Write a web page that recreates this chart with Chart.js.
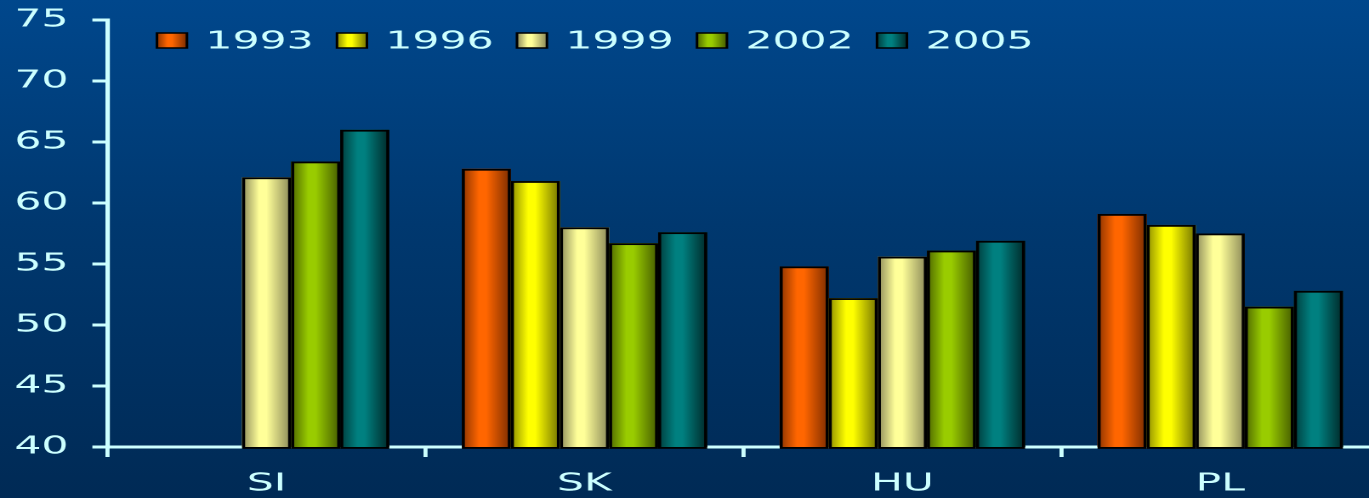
<!DOCTYPE html>
<html>
<head>
<meta charset="utf-8">
<script src="https://cdn.jsdelivr.net/npm/chart.js@4.4.1/dist/chart.umd.min.js"></script>
<style>
html, body { margin: 0; padding: 0; overflow: hidden; background: #002a55; }
#wrap { width: 1369px; height: 498px; overflow: hidden; position: relative;
        background: linear-gradient(to bottom, #00478c 0%, #00386f 45%, #002a55 100%); }
#inner { width: 811px; height: 498px; transform: scaleX(1.7006); transform-origin: 0 0; }
</style>
</head>
<body>
<div id="wrap"><div id="inner"><canvas id="myChart" width="811" height="498"></canvas></div></div>
<script>
const categories = ['SI', 'SK', 'HU', 'PL'];
const years = ['1993', '1996', '1999', '2002', '2005'];
const v1993 = [null, 62.8, 54.8, 59.1];
const v1996 = [null, 61.8, 52.2, 58.2];
const v1999 = [62.1, 58.0, 55.6, 57.5];
const v2002 = [63.4, 56.7, 56.1, 51.5];
const v2005 = [66.0, 57.6, 56.9, 52.8];
const yTicks = [40, 45, 50, 55, 60, 65, 70, 75];

// [left edge, highlight, right edge]
const barColors = [
    ['#8a3300', '#ff6600', '#7a2c00'],
    ['#8c8c00', '#ffff00', '#727200'],
    ['#8c8a5a', '#ffff99', '#8a8858'],
    ['#4d6600', '#99cc00', '#445a00'],
    ['#003c3c', '#008080', '#002828']
];
const textColor = '#ccffff';
const fontFamily = '"DejaVu Sans", Verdana, sans-serif';

const seriesValues = [v1993, v1996, v1999, v2002, v2005];

function shade(ctx, left, width, cols) {
    const g = ctx.createLinearGradient(left, 0, left + width, 0);
    g.addColorStop(0, cols[0]);
    g.addColorStop(0.35, cols[1]);
    g.addColorStop(0.5, cols[1]);
    g.addColorStop(1, cols[2]);
    return g;
}

// paints the shaded bars over the flat ones, using the positions chart.js computed
const shadedBars = {
    id: 'shadedBars',
    afterDatasetsDraw(chart) {
        const ctx = chart.ctx;
        const bottom = chart.chartArea.bottom;
        ctx.save();
        chart.data.datasets.forEach((ds, di) => {
            const meta = chart.getDatasetMeta(di);
            meta.data.forEach((el, i) => {
                if (ds.data[i] === null) return;
                const p = el.getProps(['x', 'y', 'base', 'width'], true);
                const left = p.x - p.width / 2;
                const base = Math.min(p.base, bottom);
                ctx.fillStyle = shade(ctx, left, p.width, barColors[di]);
                ctx.fillRect(left, p.y, p.width, base - p.y);
                ctx.strokeStyle = '#000000';
                ctx.lineWidth = 1.8;
                ctx.strokeRect(left + 0.9, p.y + 0.9, p.width - 1.8, base - p.y);
            });
        });
        ctx.restore();
    }
};

const topLegend = {
    id: 'topLegend',
    afterDraw(chart) {
        const ctx = chart.ctx;
        ctx.save();
        ctx.font = '25px ' + fontFamily;
        ctx.textBaseline = 'middle';
        ctx.textAlign = 'left';
        years.forEach((yr, i) => {
            const x = 92.3 + i * 105.85;
            const y = 33;
            ctx.fillStyle = shade(ctx, x, 17.6, barColors[i]);
            ctx.fillRect(x, y, 17.6, 15);
            ctx.strokeStyle = '#000000';
            ctx.lineWidth = 1.5;
            ctx.strokeRect(x, y, 17.6, 15);
            ctx.fillStyle = textColor;
            ctx.fillText(yr, x + 28.5, 42);
        });
        ctx.restore();
    }
};

const datasets = years.map((yr, i) => ({
    label: yr,
    data: seriesValues[i],
    backgroundColor: barColors[i][1],
    borderWidth: 0,
    categoryPercentage: 0.772,
    barPercentage: 1.0
}));

const ctx = document.getElementById('myChart').getContext('2d');
const myChart = new Chart(ctx, {
    type: 'bar',
    data: {
        labels: categories,
        datasets: datasets
    },
    options: {
        responsive: false,
        animation: false,
        devicePixelRatio: 2,
        layout: {
            padding: { left: 8.5, top: 20, right: 0, bottom: 0 }
        },
        plugins: {
            legend: { display: false },
            tooltip: { enabled: false }
        },
        scales: {
            x: {
                z: 1,
                afterFit(scale) {
                    scale.height = 51;
                    scale.paddingLeft = 0;
                    scale.paddingRight = 0;
                },
                grid: {
                    offset: true,
                    drawOnChartArea: false,
                    drawTicks: true,
                    tickLength: 10,
                    color: textColor,
                    lineWidth: 2.4
                },
                border: { display: true, color: textColor, width: 3 },
                ticks: {
                    color: textColor,
                    padding: 13,
                    font: { family: fontFamily, size: 25, lineHeight: 1.1 }
                }
            },
            y: {
                z: 1,
                min: 40,
                max: 75,
                beginAtZero: false,
                afterFit(scale) {
                    scale.width = 54.8;
                    scale.paddingTop = 0;
                    scale.paddingBottom = 0;
                },
                afterBuildTicks(scale) {
                    scale.ticks = yTicks.map(v => ({ value: v }));
                },
                grid: {
                    drawOnChartArea: false,
                    drawTicks: true,
                    tickLength: 9,
                    color: textColor,
                    lineWidth: 3
                },
                border: { display: true, color: textColor, width: 2.6 },
                ticks: {
                    color: textColor,
                    padding: 14,
                    font: { family: fontFamily, size: 25 }
                }
            }
        }
    },
    plugins: [shadedBars, topLegend]
});
</script>
</body>
</html>
